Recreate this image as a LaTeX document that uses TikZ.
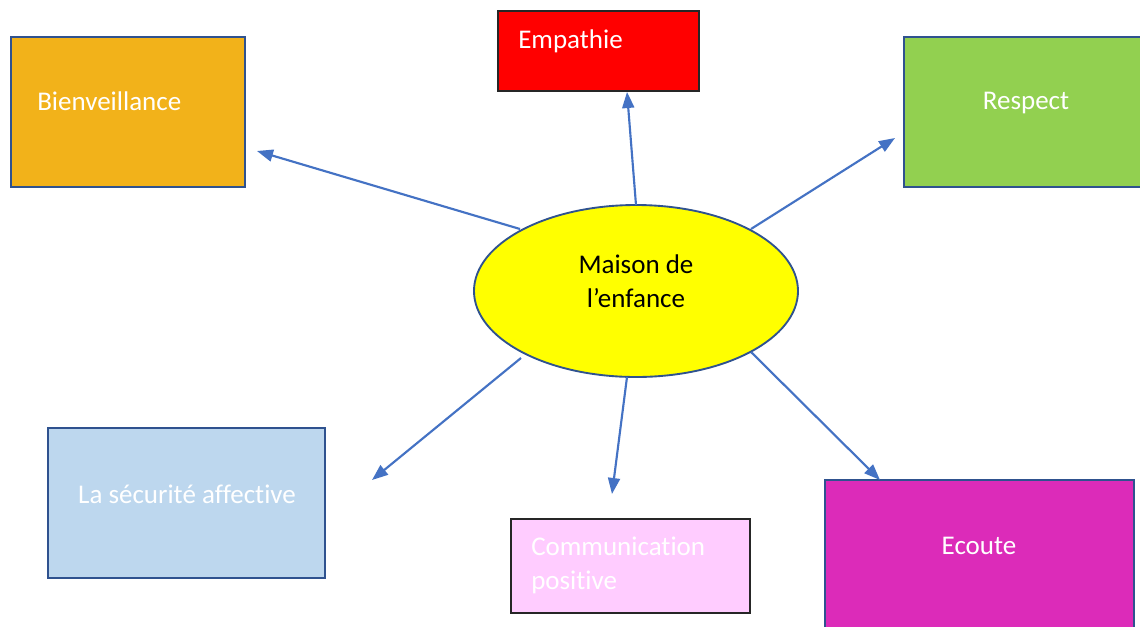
\documentclass[tikz,border=0pt]{standalone}
\usepackage{fontspec}
\setmainfont{Carlito}[Ligatures=NoCommon]
\usetikzlibrary{arrows.meta,shapes.geometric}
\definecolor{bord}{HTML}{2F528F}
\definecolor{arr}{HTML}{4472C4}
\definecolor{cBien}{HTML}{F2B21A}
\definecolor{cResp}{HTML}{92D050}
\definecolor{cSecu}{HTML}{BDD7EE}
\definecolor{cComm}{HTML}{FFCCFF}
\definecolor{cEcou}{HTML}{DC2BB9}
\definecolor{cYel}{HTML}{FFFF00}
\definecolor{cRed}{HTML}{FF0000}
\begin{document}
\begin{tikzpicture}[x=0.75pt,y=-0.75pt,
  boxshape/.style={draw=bord,line width=1.4pt,inner sep=0pt,outer sep=0pt,anchor=north west},
  boxdark/.style={draw=black!85,line width=1pt,inner sep=0pt,outer sep=0pt,anchor=north west},
  lbl/.style={text=white,inner sep=0pt,font=\fontsize{20.25}{25.5}\selectfont},
  conn/.style={draw=arr,line width=1.6pt,-{Triangle[length=12pt,width=9pt]}}]
\clip (0,0) rectangle (1140,626);
\fill[white] (0,0) rectangle (1140,626);

% boxes
\node[boxshape,fill=cBien,minimum width=234*0.75pt,minimum height=150*0.75pt] (bien) at (11,37) {};
\node[boxdark,fill=cRed,minimum width=201*0.75pt,minimum height=80*0.75pt] (emp) at (498,11) {};
\node[boxshape,fill=cResp,minimum width=250*0.75pt,minimum height=150*0.75pt] (resp) at (904,37) {};
\node[boxshape,fill=cSecu,minimum width=277*0.75pt,minimum height=150*0.75pt] (secu) at (48,428) {};
\node[boxdark,fill=cComm,minimum width=239*0.75pt,minimum height=94*0.75pt] (comm) at (511,519) {};
\node[boxshape,fill=cEcou,minimum width=309*0.75pt,minimum height=160*0.75pt] (ecou) at (825,480) {};

% ellipse
\node[ellipse,draw=bord,line width=1.4pt,fill=cYel,minimum width=324*0.75pt,minimum height=172*0.75pt,inner sep=0pt] (mais) at (636,291) {};

% labels
\node[lbl,anchor=west] (tbien) at (37,101) {Bienveillance};
\node[lbl,anchor=west] (temp) at (518,41) {Empathie};
\node[lbl] (tresp) at (1026,103) {Respect};
\node[lbl] (tsecu) at (187,494) {La sécurité affective};
\node[lbl,anchor=north west,align=left] (tcomm) at (531,537) {Communication\\positive};
\node[lbl] (tecou) at (979,546) {Ecoute};
\node[lbl,text=black,align=center] (tmais) at (636,281) {Maison de\\l’enfance};

% connector end points
\coordinate (s1) at (520,229); \coordinate (e1) at (257,151);
\coordinate (s2) at (636,205); \coordinate (e2) at (627,92);
\coordinate (s3) at (751,229); \coordinate (e3) at (895,138);
\coordinate (s4) at (521,358); \coordinate (e4) at (372,480);
\coordinate (s5) at (627,377); \coordinate (e5) at (612,494);
\coordinate (s6) at (751,352); \coordinate (e6) at (880,480);

\draw[conn] (s1) -- (e1);
\draw[conn] (s2) -- (e2);
\draw[conn] (s3) -- (e3);
\draw[conn] (s4) -- (e4);
\draw[conn] (s5) -- (e5);
\draw[conn] (s6) -- (e6);
\end{tikzpicture}
\end{document}
